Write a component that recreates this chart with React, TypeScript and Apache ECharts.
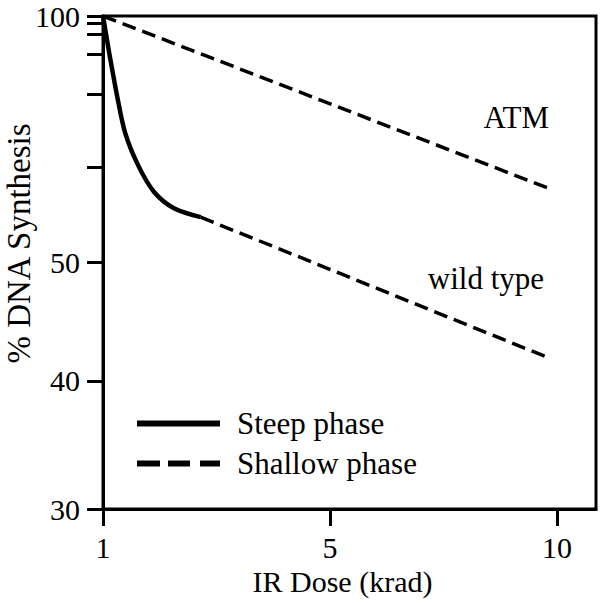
import React, { useEffect, useRef } from 'react';
import * as echarts from 'echarts';

// Tick labels
const doseTicks = [1, 5, 10];
const pctTicks = [30, 40, 50, 100];

// Wild type, steep phase (solid curve)
const steepDose = [1, 1.07, 1.12, 1.25, 1.39, 1.62, 1.9, 2.25, 2.72];
const steepPct = [100, 95.2, 91.8, 83.7, 76.3, 69.7, 64.3, 61.0, 59.2];
// Wild type, shallow phase (dashed)
const wtShallowDose = [2.72, 9.78];
const wtShallowPct = [59.2, 42.0];
// ATM, shallow phase (dashed)
const atmDose = [1, 9.8];
const atmPct = [100, 65.1];

// The original schematic uses non-standard axes: evenly spaced dose ticks and an
// uneven % axis. These define where each tick value sits along its axis.
const DOSE_AXIS = [0, 1, 2];
const PCT_AXIS = [0, 0.26, 0.5, 1];
const PCT_MINOR = [0.694, 0.842, 0.923, 0.9636, 0.986];

function interp(v: number, from: number[], to: number[]) {
  const n = from.length;
  const asc = from[n - 1] > from[0];
  const f = asc ? from : [...from].reverse();
  const t = asc ? to : [...to].reverse();
  let i = 0;
  while (i < n - 2 && v > f[i + 1]) i++;
  return t[i] + ((v - f[i]) / (f[i + 1] - f[i])) * (t[i + 1] - t[i]);
}
const toX = (d: number) => interp(d, doseTicks, DOSE_AXIS);
const toY = (p: number) => interp(p, pctTicks, PCT_AXIS);
const pts = (xs: number[], ys: number[]) => xs.map((x, i) => [toX(x), toY(ys[i])]);

const FONT = "'Liberation Serif', 'Times New Roman', serif";
const FS = 31;

export default function App() {
  const ref = useRef<HTMLDivElement>(null);
  useEffect(() => {
    if (!ref.current) return;
    const chart = echarts.init(ref.current, undefined, { renderer: 'svg' });
    const dashed = { color: '#000', width: 3.5, type: [14, 7] as number[], cap: 'butt' as const };
    chart.setOption({
      animation: false,
      backgroundColor: '#fff',
      color: ['#000'],
      grid: {
        left: 103, top: 16, right: 4, bottom: 94,
        containLabel: false, outerBoundsMode: 'none',
        show: true, borderColor: '#000', borderWidth: 3, backgroundColor: 'transparent',
      },
      xAxis: {
        type: 'value', min: 0, max: 494 / 227.5,
        name: 'IR Dose (krad)', nameLocation: 'middle', nameGap: 59, nameMoveOverlap: false,
        nameTextStyle: { fontFamily: FONT, fontSize: 30, lineHeight: 26, color: '#000', padding: [0, 14, 0, 0] },
        axisLine: { lineStyle: { color: '#000', width: 3 } },
        axisTick: { show: true, length: 17, lineStyle: { color: '#000', width: 3 }, customValues: DOSE_AXIS },
        axisLabel: {
          customValues: DOSE_AXIS, margin: 25, fontFamily: FONT, fontSize: 30, lineHeight: 26, color: '#000',
          formatter: (v: number) => String(doseTicks[Math.round(v)]),
        },
        splitLine: { show: false },
      },
      yAxis: {
        type: 'value', min: 0, max: 1,
        name: '% DNA Synthesis', nameLocation: 'middle', nameGap: 68, nameMoveOverlap: false,
        nameTextStyle: { fontFamily: FONT, fontSize: 33, color: '#000', padding: [0, 0, 0, 38] },
        axisLine: { lineStyle: { color: '#000', width: 3 } },
        axisTick: { show: true, length: 16, lineStyle: { color: '#000', width: 3 }, customValues: [...PCT_AXIS, ...PCT_MINOR] },
        axisLabel: {
          customValues: PCT_AXIS, margin: 23, fontFamily: FONT, fontSize: 30, lineHeight: 24, color: '#000',
          formatter: (v: number) => {
            let best = 0;
            PCT_AXIS.forEach((p, i) => { if (Math.abs(p - v) < Math.abs(PCT_AXIS[best] - v)) best = i; });
            return String(pctTicks[best]);
          },
        },
        splitLine: { show: false },
      },
      legend: {
        orient: 'vertical', left: 132, top: 403, itemWidth: 83, itemHeight: 6, itemGap: 9,
        textStyle: { fontFamily: FONT, fontSize: FS, color: '#000', lineHeight: 30, padding: [0, 0, 0, 12] },
        data: [
          { name: 'Steep phase', icon: 'rect' },
          { name: 'Shallow phase', icon: 'path://M0,0H23V6H0Z M31,0H53V6H31Z M63,0H83V6H63Z' },
        ],
      },
      series: [
        {
          name: 'Steep phase', type: 'line', symbol: 'none', smooth: 0.3,
          lineStyle: { color: '#000', width: 4.5 }, data: pts(steepDose, steepPct),
        },
        {
          name: 'Shallow phase', type: 'line', symbol: 'none',
          lineStyle: dashed, data: pts(wtShallowDose, wtShallowPct),
        },
        {
          name: 'Shallow phase', type: 'line', symbol: 'none',
          lineStyle: dashed, data: pts(atmDose, atmPct),
        },
      ],
    });
    const atmEnd = chart.convertToPixel({ gridIndex: 0 }, [toX(atmDose[1]), toY(atmPct[1])]) as number[];
    const wtEnd = chart.convertToPixel({ gridIndex: 0 }, [toX(wtShallowDose[1]), toY(wtShallowPct[1])]) as number[];
    const txt = (text: string, x: number, y: number) => ({
      type: 'text', x, y,
      style: {
        text, fill: '#000', fontFamily: FONT, fontSize: FS,
        align: 'right', textAlign: 'right', verticalAlign: 'middle', textVerticalAlign: 'middle',
      },
    });
    chart.setOption({
      graphic: [txt('ATM', atmEnd[0] + 1, atmEnd[1] - 71), txt('wild type', wtEnd[0] - 3, wtEnd[1] - 79)],
    });
    return () => chart.dispose();
  }, []);
  return <div ref={ref} style={{ position: 'fixed', left: 0, top: 0, width: 600, height: 603 }} />;
}
